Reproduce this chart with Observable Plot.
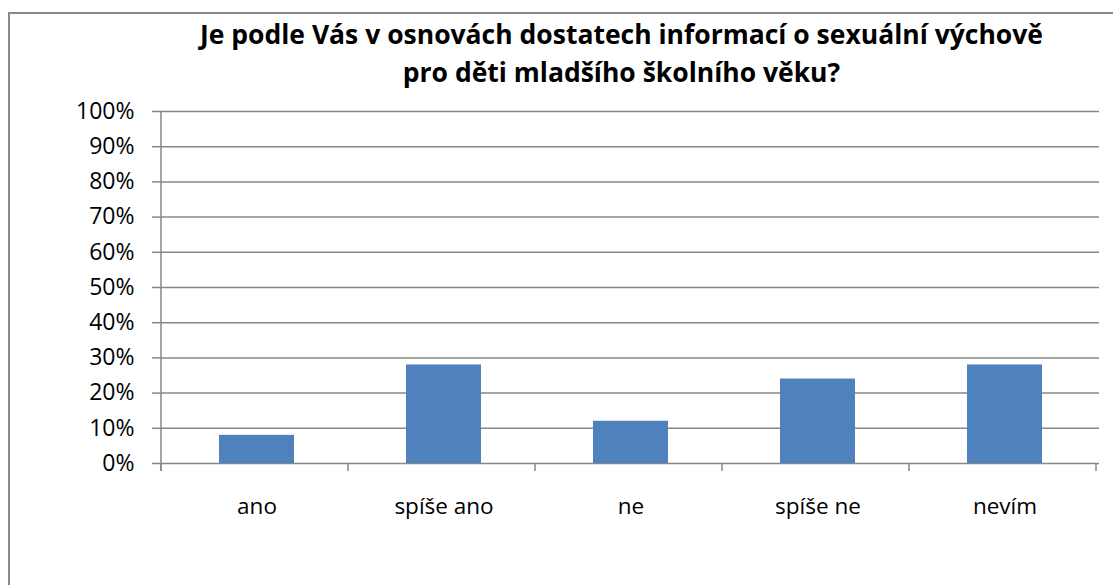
<!DOCTYPE html>
<html><head><meta charset="utf-8">
<script src="https://cdn.jsdelivr.net/npm/d3@7"></script>
<script src="https://cdn.jsdelivr.net/npm/@observablehq/plot@0.6"></script>
<style>
body{margin:0;background:#fff;overflow:hidden}
#wrap{position:relative;width:1113px;height:585px;overflow:hidden;background:#fff}
#wrap svg{position:absolute;left:0;top:0}
#border{position:absolute;left:8px;top:12px;width:1300px;height:800px;border:2px solid #898989;box-sizing:border-box}
#title{position:absolute;left:0;top:15px;width:1243px;text-align:center;font:bold 26.5px/38px "Open Sans";color:#000;white-space:nowrap}
</style></head><body>
<div id="wrap"></div>
<script>
const titleLines = ["Je podle Vás v osnovách dostatech informací o sexuální výchově", "pro děti mladšího školního věku?"];
const categories = ["ano", "spíše ano", "ne", "spíše ne", "nevím"];
const values = [0.08, 0.28, 0.12, 0.24, 0.28];
const yTicks = [0, 0.1, 0.2, 0.3, 0.4, 0.5, 0.6, 0.7, 0.8, 0.9, 1];
const yTickLabels = ["0%", "10%", "20%", "30%", "40%", "50%", "60%", "70%", "80%", "90%", "100%"];

const data = categories.map((c, i) => ({cat: c, value: values[i]}));
const gridColor = "#878787";
const barColor = "#4F81BD";

const plot = Plot.plot({
  width: 1113,
  height: 585,
  marginLeft: 161,
  marginRight: 14,
  marginTop: 111,
  marginBottom: 122,
  style: {fontFamily: "'Open Sans', sans-serif", fontSize: "22px", color: "#000", background: "transparent"},
  x: {domain: categories, paddingInner: 0.6, paddingOuter: 0.3, label: null},
  y: {domain: [0, 1], label: null},
  marks: [
    Plot.gridY(yTicks, {stroke: gridColor, strokeOpacity: 1, strokeWidth: 1.5}),
    Plot.barY(data, {x: "cat", y: "value", fill: barColor}),
    Plot.axisY(yTicks, {tickSize: 9, tickPadding: 18, stroke: gridColor, strokeWidth: 1.5, fontSize: 23, tickFormat: (d) => yTickLabels[yTicks.indexOf(d)], label: null, fill: "#000"}),
    Plot.axisX({tickSize: 0, tickPadding: 35, fontSize: 22.5, label: null, fill: "#000"})
  ]
});

// axis line and category separators drawn from the library's scales
const xs = plot.scale("x");
const ys = plot.scale("y");
const x0 = xs.range[0];
const step = xs.step;
const yBase = ys.apply(0);
const yTop = ys.apply(1);
const g = d3.select(plot).append("g").attr("stroke", gridColor).attr("stroke-width", 1.5);
g.append("line").attr("x1", x0).attr("x2", x0).attr("y1", yTop).attr("y2", yBase + 8);
for (let i = 0; i <= categories.length; i++) {
  const px = x0 + i * step;
  g.append("line").attr("x1", px).attr("x2", px).attr("y1", yBase).attr("y2", yBase + 8);
}

const wrap = document.getElementById("wrap");
wrap.appendChild(plot);
const border = document.createElement("div");
border.id = "border";
wrap.appendChild(border);
const title = document.createElement("div");
title.id = "title";
title.innerHTML = titleLines.join("<br>");
wrap.appendChild(title);
</script>
</body></html>
